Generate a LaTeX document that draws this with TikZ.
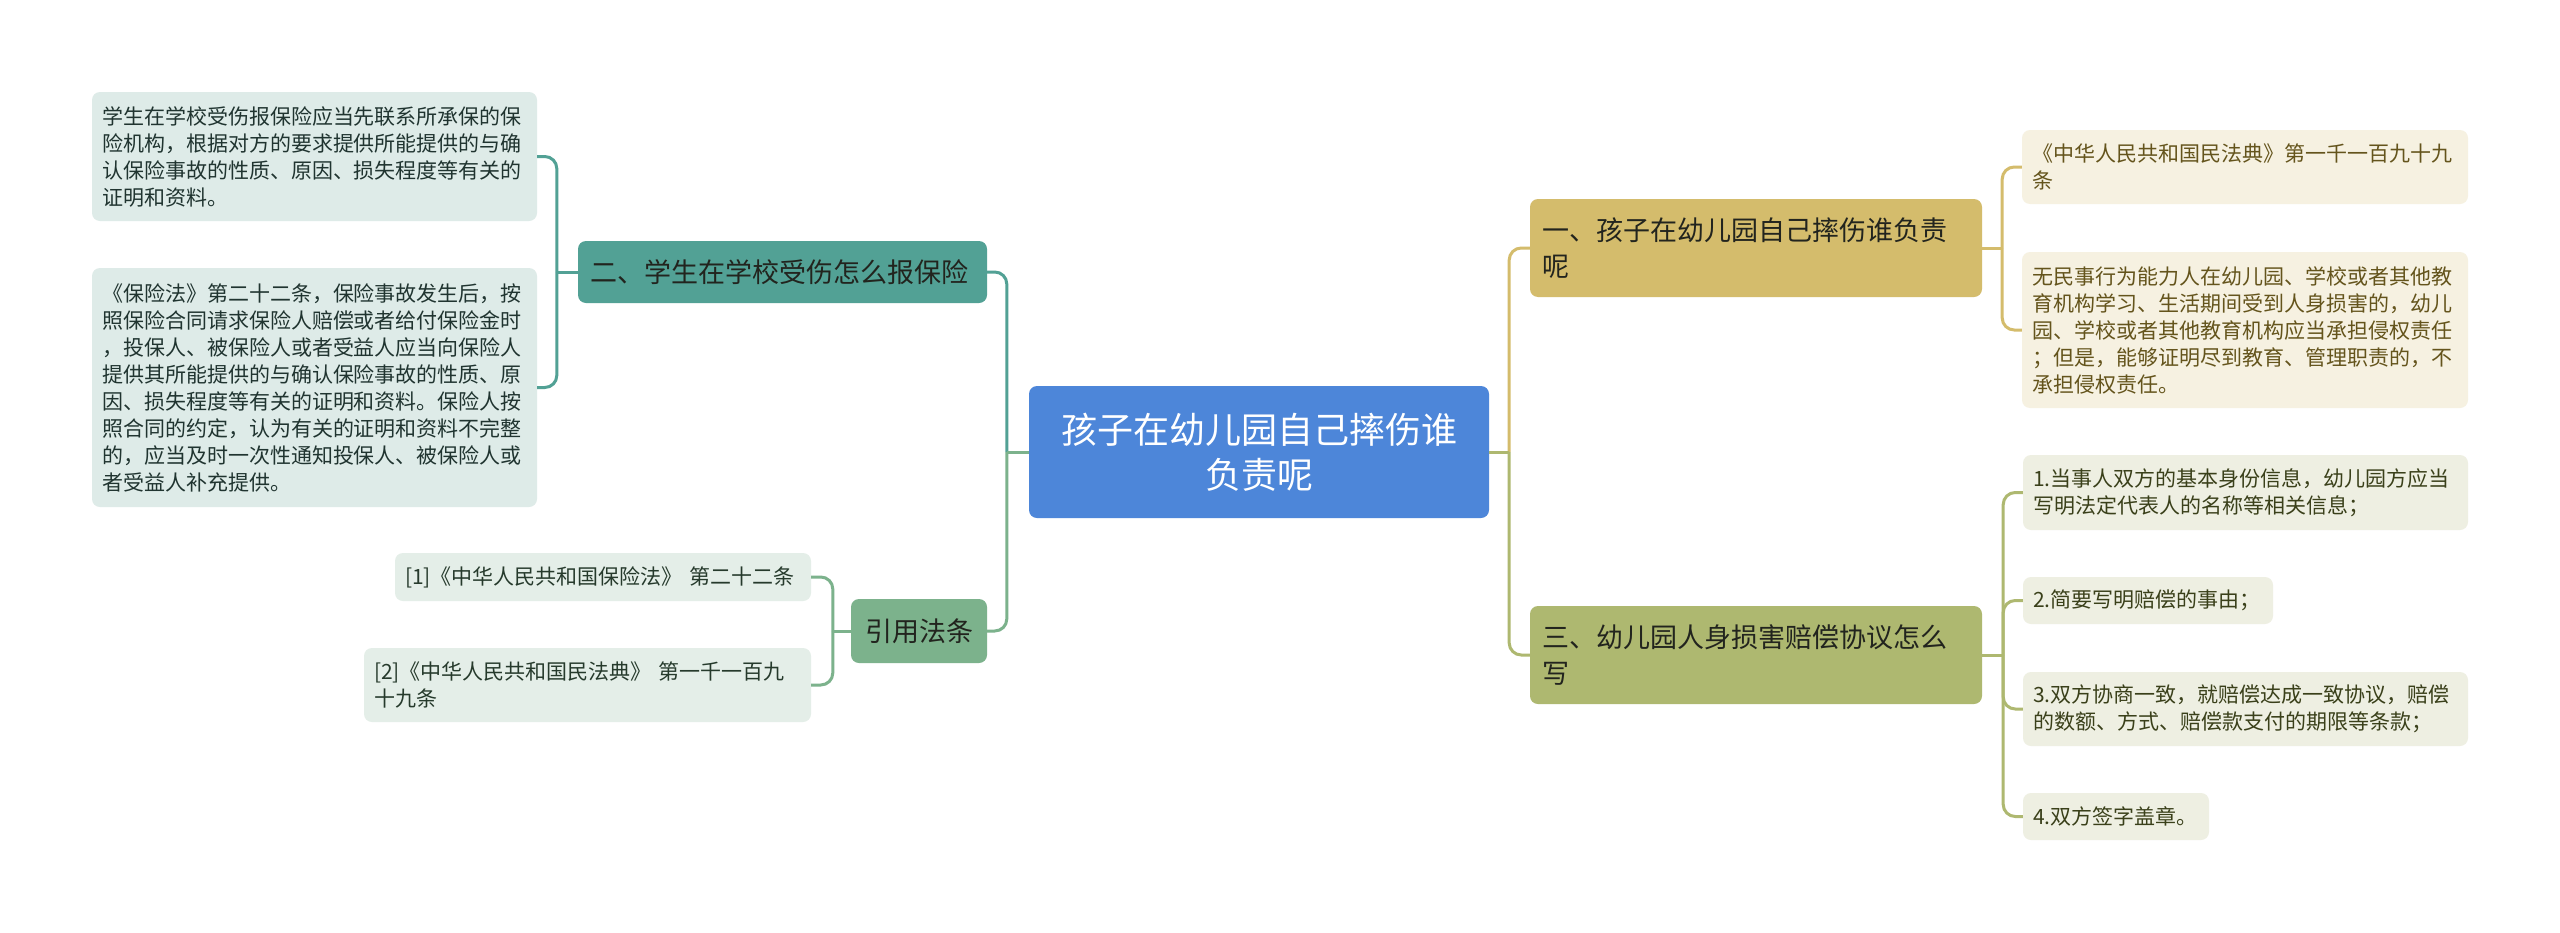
\documentclass[tikz,border=0pt]{standalone}
\usepackage{fontspec}
\setmainfont{Noto Sans CJK SC}
\usepackage{tikz}
\definecolor{rootblue}{RGB}{77,134,217}
\definecolor{tealdark}{RGB}{82,161,149}
\definecolor{teallight}{RGB}{222,235,232}
\definecolor{tealtext}{RGB}{32,52,48}
\definecolor{greendark}{RGB}{124,178,140}
\definecolor{greenlight}{RGB}{228,238,232}
\definecolor{greentext}{RGB}{38,58,44}
\definecolor{golddark}{RGB}{212,188,108}
\definecolor{goldlight}{RGB}{246,241,225}
\definecolor{goldtext}{RGB}{100,84,28}
\definecolor{olivedark}{RGB}{174,184,112}
\definecolor{olivelight}{RGB}{238,239,226}
\definecolor{olivetext}{RGB}{58,64,26}
\definecolor{branchtext}{RGB}{34,36,30}
\newcommand\leaffont{\fontsize{21pt}{27pt}\selectfont}
\newcommand\branchfont{\fontsize{27pt}{36pt}\selectfont}
\newcommand\rootfont{\fontsize{36pt}{45pt}\selectfont}
\tikzset{
  every picture/.style={line join=round, x=1pt, y=-1pt},
  box/.style={rounded corners=8pt, inner ysep=0pt, align=left},
  leaf/.style={box, inner xsep=10pt, font=\leaffont},
  branch/.style={box, inner xsep=12pt, font=\branchfont, text=branchtext},
  rootbox/.style={box, inner xsep=12pt, align=center, font=\rootfont, fill=rootblue, text=white},
  leafteal/.style={leaf, fill=teallight, text=tealtext},
  leafgreen/.style={leaf, fill=greenlight, text=greentext},
  leafgold/.style={leaf, fill=goldlight, text=goldtext},
  leafolive/.style={leaf, fill=olivelight, text=olivetext},
  link/.style={line width=3pt},
  elbow/.style={link, rounded corners=12pt},
}

\begin{document}
\begin{tikzpicture}
\useasboundingbox[fill=white](0,0)rectangle(2560,932);
\node[rootbox, text width=436pt, minimum height=132pt](root)at(1259,452){孩子在幼儿园自己摔伤谁\\负责呢};

\node[branch, fill=tealdark, text width=385pt, minimum height=62pt](b2)at(782.5,272){二、学生在学校受伤怎么报保险};
\node[leafteal, text width=425pt, minimum height=129pt](l1)at(314.5,156.5){学生在学校受伤报保险应当先联系所承保的保\\险机构，根据对方的要求提供所能提供的与确\\认保险事故的性质、原因、损失程度等有关的\\证明和资料。};
\node[leafteal, text width=425pt, minimum height=239pt](l2)at(314.5,387.5){《保险法》第二十二条，保险事故发生后，按\\照保险合同请求保险人赔偿或者给付保险金时\\，投保人、被保险人或者受益人应当向保险人\\提供其所能提供的与确认保险事故的性质、原\\因、损失程度等有关的证明和资料。保险人按\\照合同的约定，认为有关的证明和资料不完整\\的，应当及时一次性通知投保人、被保险人或\\者受益人补充提供。};

\node[branch, fill=greendark, text width=112pt, align=center, minimum height=64pt](bc)at(919,631){引用法条};
\node[leafgreen, text width=396pt, minimum height=48pt](c1)at(603,577){[1]《中华人民共和国保险法》 第二十二条};
\node[leafgreen, text width=427pt, minimum height=74pt](c2)at(587.5,685){[2]《中华人民共和国民法典》 第一千一百九\\十九条};

\node[branch, fill=golddark, text width=428pt, minimum height=98pt](b1)at(1756,248){一、孩子在幼儿园自己摔伤谁负责\\呢};
\node[leafgold, text width=426pt, minimum height=74pt](r1)at(2245,167){《中华人民共和国民法典》第一千一百九十九\\条};
\node[leafgold, text width=426pt, minimum height=156pt](r2)at(2245,330){无民事行为能力人在幼儿园、学校或者其他教\\育机构学习、生活期间受到人身损害的，幼儿\\园、学校或者其他教育机构应当承担侵权责任\\；但是，能够证明尽到教育、管理职责的，不\\承担侵权责任。};

\node[branch, fill=olivedark, text width=428pt, minimum height=98pt](b3)at(1756,655){三、幼儿园人身损害赔偿协议怎么\\写};
\node[leafolive, text width=425pt, minimum height=75pt](r3)at(2245.5,492.5){1.当事人双方的基本身份信息，幼儿园方应当\\写明法定代表人的名称等相关信息；};
\node[leafolive, text width=230pt, minimum height=47pt](r4)at(2148,600.5){2.简要写明赔偿的事由；};
\node[leafolive, text width=425pt, minimum height=74pt](r5)at(2245.5,709){3.双方协商一致，就赔偿达成一致协议，赔偿\\的数额、方式、赔偿款支付的期限等条款；};
\node[leafolive, text width=166pt, minimum height=47pt](r6)at(2116,816.5){4.双方签字盖章。};

\draw[link, tealdark](root.west)--++(-22,0)coordinate(jl);
\draw[elbow, tealdark](jl)|-(b2.east);
\draw[link, greendark](root.west)--(jl);
\draw[elbow, greendark](jl)|-(bc.east);
\draw[link, golddark](root.east)--++(20,0)coordinate(jr);
\draw[elbow, golddark](jr)|-(b1.west);
\draw[link, olivedark](root.east)--(jr);
\draw[elbow, olivedark](jr)|-(b3.west);

\draw[link, tealdark](b2.west)--++(-21,0)coordinate(j2);
\draw[elbow, tealdark](j2)|-(l1.east);
\draw[elbow, tealdark](j2)|-(l2.east);
\draw[link, greendark](bc.west)--++(-18,0)coordinate(jc);
\draw[elbow, greendark](jc)|-(c1.east);
\draw[elbow, greendark](jc)|-(c2.east);

\draw[link, golddark](b1.east)--++(20,0)coordinate(j1);
\draw[elbow, golddark](j1)|-(r1.west);
\draw[elbow, golddark](j1)|-(r2.west);
\draw[link, olivedark](b3.east)--++(21,0)coordinate(j3);
\draw[elbow, olivedark](j3)|-(r3.west);
\draw[elbow, olivedark](j3)|-(r4.west);
\draw[elbow, olivedark](j3)|-(r5.west);
\draw[elbow, olivedark](j3)|-(r6.west);
\end{tikzpicture}
\end{document}
